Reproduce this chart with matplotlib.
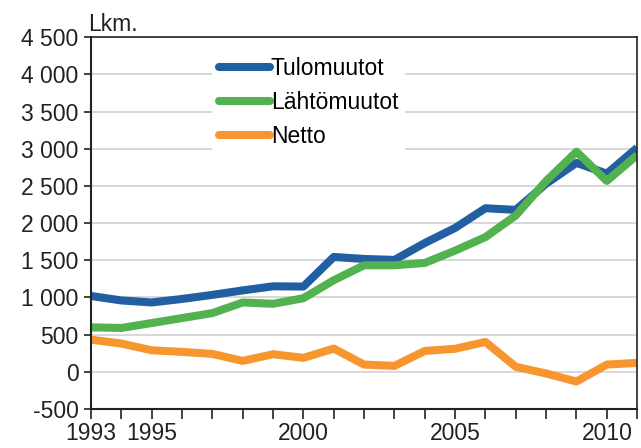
import matplotlib
matplotlib.use("Agg")
import matplotlib.pyplot as plt

plt.rcParams['font.family'] = ['Liberation Sans', 'DejaVu Sans']

years = list(range(1993, 2012))
tulomuutot = [1020, 960, 933, 980, 1035, 1095, 1150, 1147, 1545, 1518, 1505,
              1732, 1935, 2200, 2178, 2530, 2810, 2665, 3013]
lahtomuutot = [598, 590, 656, 723, 790, 933, 915, 990, 1232, 1433, 1433,
               1464, 1630, 1812, 2103, 2567, 2960, 2567, 2915]
netto = [433, 380, 290, 268, 241, 147, 237, 188, 313, 98, 80,
         281, 310, 402, 68, -22, -130, 98, 120]

yticks = list(range(-500, 5000, 500))
xtick_labels = [1993, 1995, 2000, 2005, 2010]

blue = '#215ea2'
green = '#52b24f'
orange = '#f7962f'

fig = plt.figure(figsize=(6.41, 4.48), dpi=100)
ax = fig.add_axes([0.142, 0.087, 0.852, 0.83])

lw = 5.8
ax.plot(years, tulomuutot, color=blue, lw=lw, label='Tulomuutot', solid_capstyle='butt')
ax.plot(years, lahtomuutot, color=green, lw=lw, label='Lähtömuutot', solid_capstyle='butt')
ax.plot(years, netto, color=orange, lw=lw, label='Netto', solid_capstyle='butt')

ax.set_xlim(1993, 2011)
ax.set_ylim(-500, 4500)
ax.set_yticks(yticks)
ax.set_yticklabels([f"{v:,}".replace(',', ' ') for v in yticks])
ax.set_xticks(years, minor=False)
ax.set_xticklabels([str(y) if y in xtick_labels else '' for y in years])

ax.grid(axis='y', color='#d4d4d4', lw=1.3)
ax.set_axisbelow(True)
for s in ax.spines.values():
    s.set_color('#222222')
    s.set_linewidth(1.2)
ax.spines['left'].set_linewidth(1.5)
ax.spines['bottom'].set_linewidth(1.5)

ax.tick_params(axis='both', labelsize=16.5, colors='#222222', width=1.2)
ax.tick_params(axis='x', length=7, pad=2)
ax.tick_params(axis='y', length=5, pad=4)

leg = ax.legend(loc='upper left', bbox_to_anchor=(0.222, 0.965), frameon=True,
                fontsize=16.5, handlelength=2.2, handletextpad=0.05,
                labelspacing=0.48, borderpad=0.3, borderaxespad=0)
leg.get_frame().set_facecolor('white')
leg.get_frame().set_edgecolor('none')
leg.get_frame().set_alpha(1)
for line in leg.get_lines():
    line.set_solid_capstyle('round')

fig.text(88 / 641, 1 - 31 / 448, 'Lkm.', fontsize=16.5, color='#222222')

fig.savefig('out.png', dpi=100)
